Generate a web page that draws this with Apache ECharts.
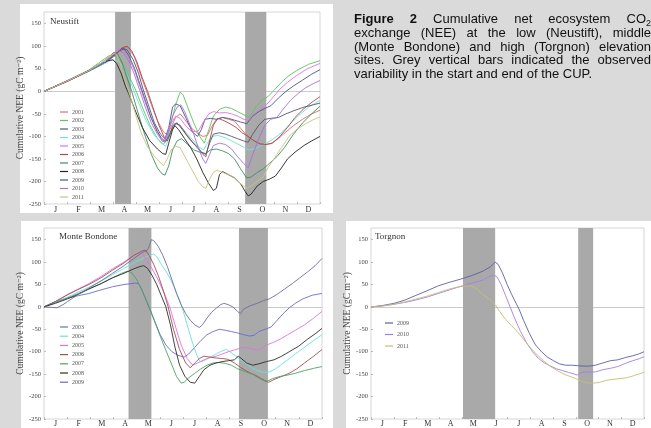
<!DOCTYPE html>
<html><head><meta charset="utf-8">
<script src="https://cdn.jsdelivr.net/npm/echarts@6/dist/echarts.min.js"></script>
<style>html,body{margin:0;padding:0;background:#dadada}#c{width:651px;height:428px}</style>
</head><body><div id="c"></div>
<script>
// ---------- data ----------
const months = ['J','F','M','A','M','J','J','A','S','O','N','D'];
const yTicks = {min:-250, max:176, step:50};

// Neustift (day of year, cumulative NEE)
const neu2001 = [[0,0],[31,22],[59,44],[80,62],[95,80],[106,99],[112,96],[120,75],[128,35],[135,3],[142,-30],[150,-65],[158,-90],[163,-97],[168,-80],[174,-58],[180,-50],[186,-62],[194,-80],[202,-92],[210,-100],[216,-98],[222,-78],[228,-62],[236,-58],[244,-62],[252,-66],[260,-82],[268,-98],[276,-108],[284,-115],[292,-118],[300,-116],[310,-105],[320,-90],[330,-76],[342,-62],[354,-50],[365,-42]];
const neu2002 = [[0,0],[31,24],[59,47],[75,66],[85,78],[92,80],[100,70],[108,48],[115,25],[122,0],[130,-35],[140,-75],[150,-105],[158,-118],[163,-105],[168,-70],[174,-30],[180,-2],[184,-8],[190,-35],[198,-70],[206,-100],[212,-115],[218,-85],[224,-55],[232,-40],[240,-35],[248,-38],[256,-45],[264,-52],[272,-58],[280,-35],[288,-20],[296,-12],[304,2],[314,20],[324,35],[336,48],[350,60],[365,68]];
const neu2003 = [[0,0],[31,23],[59,45],[80,63],[95,82],[103,96],[110,92],[118,70],[125,40],[131,5],[138,-30],[146,-70],[154,-95],[160,-105],[165,-80],[170,-35],[174,-28],[180,-32],[188,-60],[196,-90],[203,-100],[208,-85],[213,-62],[220,-60],[228,-62],[236,-58],[244,-60],[252,-64],[260,-68],[268,-72],[276,-55],[284,-45],[292,-38],[300,-32],[310,-15],[320,0],[330,12],[342,25],[354,38],[365,48]];
const neu2004 = [[0,0],[31,23],[59,44],[75,57],[85,66],[92,70],[98,68],[105,55],[112,30],[118,5],[125,-25],[135,-65],[145,-95],[155,-115],[161,-122],[166,-100],[171,-72],[176,-70],[182,-80],[190,-95],[198,-110],[206,-125],[211,-130],[216,-115],[222,-100],[230,-98],[238,-102],[246,-108],[254,-115],[262,-122],[270,-130],[278,-128],[286,-122],[294,-115],[304,-105],[314,-92],[324,-75],[336,-55],[350,-35],[365,-20]];
const neu2005 = [[0,0],[31,24],[59,46],[80,65],[92,85],[100,95],[106,90],[112,75],[120,45],[127,10],[134,-25],[142,-60],[150,-90],[157,-112],[162,-100],[168,-72],[174,-55],[180,-60],[188,-78],[196,-90],[204,-88],[212,-65],[218,-50],[224,-45],[232,-48],[240,-47],[248,-50],[256,-55],[264,-62],[270,-65],[278,-50],[286,-40],[294,-30],[302,-15],[312,5],[322,20],[334,35],[348,50],[365,62]];
const neu2006 = [[0,0],[31,22],[59,45],[80,64],[95,84],[104,97],[110,100],[116,90],[123,65],[130,30],[137,0],[144,-35],[152,-75],[159,-102],[163,-110],[168,-90],[174,-72],[180,-75],[188,-95],[196,-112],[204,-125],[210,-140],[214,-145],[219,-110],[224,-75],[230,-60],[238,-65],[246,-72],[254,-80],[262,-92],[270,-100],[278,-110],[286,-117],[294,-118],[302,-115],[312,-100],[322,-80],[332,-58],[344,-38],[356,-22],[365,-12]];
const neu2007 = [[0,0],[31,23],[59,46],[75,62],[85,75],[92,86],[97,84],[103,65],[110,30],[116,0],[123,-40],[132,-90],[142,-140],[150,-170],[156,-183],[160,-186],[165,-165],[170,-130],[176,-110],[182,-105],[190,-118],[198,-130],[206,-135],[214,-138],[220,-130],[228,-128],[236,-132],[244,-138],[252,-150],[260,-172],[268,-192],[274,-190],[282,-180],[290,-172],[298,-160],[308,-145],[318,-125],[330,-95],[342,-70],[354,-50],[365,-33]];
const neu2008 = [[0,0],[31,23],[59,46],[75,60],[85,68],[91,70],[96,62],[102,40],[108,10],[112,-5],[120,-40],[130,-80],[140,-110],[150,-128],[157,-138],[161,-140],[165,-115],[170,-85],[173,-76],[178,-85],[186,-105],[194,-125],[202,-150],[210,-180],[218,-205],[224,-220],[228,-215],[232,-185],[236,-178],[244,-185],[252,-192],[260,-205],[266,-222],[270,-232],[274,-228],[282,-210],[290,-200],[298,-195],[306,-188],[314,-170],[322,-150],[332,-135],[344,-120],[354,-110],[365,-100]];
const neu2009 = [[0,0],[31,23],[59,45],[80,64],[92,80],[100,90],[106,94],[112,80],[120,50],[127,15],[134,-20],[142,-60],[150,-90],[156,-105],[161,-112],[166,-95],[171,-75],[176,-70],[183,-85],[192,-105],[200,-120],[208,-135],[214,-140],[219,-115],[224,-95],[232,-92],[240,-95],[248,-100],[256,-105],[264,-110],[270,-113],[276,-95],[284,-75],[292,-62],[300,-60],[310,-58],[320,-50],[332,-42],[344,-35],[356,-30],[365,-26]];
const neu2010 = [[0,0],[31,23],[59,45],[80,64],[92,82],[99,90],[105,86],[112,68],[119,40],[126,5],[134,-35],[142,-70],[150,-95],[156,-110],[160,-112],[165,-85],[170,-55],[176,-35],[181,-30],[186,-45],[192,-70],[198,-95],[204,-125],[210,-150],[214,-160],[219,-140],[224,-120],[232,-115],[240,-118],[248,-128],[256,-145],[264,-160],[270,-170],[276,-140],[284,-105],[292,-75],[300,-62],[308,-58],[316,-40],[326,-20],[336,-5],[346,8],[356,17],[365,24]];
const neu2011 = [[0,0],[31,23],[59,46],[75,62],[85,75],[92,84],[96,82],[101,60],[106,30],[112,0],[120,-45],[128,-90],[136,-120],[144,-140],[152,-155],[158,-165],[163,-150],[168,-130],[174,-122],[180,-125],[188,-150],[196,-175],[204,-200],[210,-212],[214,-215],[219,-195],[224,-180],[229,-175],[236,-180],[244,-185],[252,-192],[260,-205],[268,-215],[274,-210],[282,-200],[290,-190],[296,-170],[304,-150],[314,-125],[324,-100],[334,-85],[346,-72],[356,-63],[365,-57]];

// Monte Bondone
const mb2003 = [[0,0],[15,12],[31,20],[45,25],[59,30],[75,38],[90,45],[105,50],[120,53],[124,52],[128,40],[133,20],[138,0],[145,-30],[152,-60],[160,-85],[168,-100],[176,-108],[184,-112],[190,-105],[198,-90],[206,-75],[214,-62],[222,-55],[230,-50],[238,-52],[246,-55],[254,-58],[262,-62],[270,-65],[276,-63],[282,-55],[290,-50],[298,-45],[306,-30],[314,-15],[322,-2],[330,8],[340,18],[352,26],[365,30]];
const mb2004 = [[0,0],[15,10],[31,22],[45,33],[59,44],[75,58],[90,72],[105,86],[120,100],[132,110],[140,116],[144,118],[148,112],[154,95],[160,80],[166,62],[172,40],[178,15],[182,-5],[188,-40],[194,-75],[200,-105],[205,-122],[210,-120],[218,-112],[226,-105],[234,-98],[240,-95],[248,-105],[256,-115],[264,-125],[272,-135],[280,-142],[288,-146],[296,-145],[304,-138],[312,-128],[320,-118],[330,-105],[342,-90],[354,-75],[365,-62]];
const mb2005 = [[0,0],[15,12],[31,28],[45,40],[59,52],[75,68],[90,85],[105,100],[118,115],[126,121],[130,118],[136,100],[142,85],[150,60],[158,30],[165,0],[172,-40],[180,-85],[188,-115],[195,-130],[202,-125],[210,-118],[218,-113],[226,-110],[234,-105],[242,-100],[250,-96],[258,-92],[264,-90],[272,-93],[280,-97],[286,-92],[292,-85],[300,-80],[310,-72],[320,-62],[330,-52],[342,-40],[354,-25],[365,-10]];
const mb2006 = [[0,0],[15,12],[31,27],[45,39],[59,50],[75,65],[90,82],[105,98],[118,115],[128,124],[133,127],[138,115],[144,95],[150,70],[156,40],[163,0],[170,-50],[178,-95],[186,-125],[192,-136],[198,-125],[204,-115],[210,-110],[218,-112],[226,-114],[234,-115],[242,-117],[250,-125],[258,-135],[266,-143],[274,-150],[282,-158],[290,-165],[295,-168],[302,-162],[312,-155],[322,-148],[332,-138],[342,-125],[354,-110],[365,-95]];
const mb2007 = [[0,0],[15,10],[31,20],[45,30],[59,40],[75,52],[90,65],[102,75],[110,80],[116,75],[122,60],[128,40],[134,15],[140,-10],[148,-45],[156,-80],[162,-105],[168,-130],[174,-155],[180,-170],[184,-168],[190,-158],[198,-148],[206,-138],[214,-130],[222,-125],[230,-124],[238,-126],[246,-130],[254,-138],[262,-143],[270,-148],[278,-152],[286,-160],[293,-166],[300,-160],[310,-155],[320,-152],[330,-148],[342,-142],[354,-137],[365,-133]];
const mb2008 = [[0,0],[15,8],[31,18],[45,28],[59,40],[75,52],[90,65],[105,75],[118,85],[126,90],[131,92],[136,86],[142,70],[148,50],[154,25],[160,0],[166,-40],[172,-90],[178,-130],[185,-155],[192,-168],[198,-170],[204,-155],[210,-140],[218,-130],[226,-125],[234,-122],[242,-120],[250,-118],[255,-110],[259,-115],[266,-125],[274,-130],[282,-127],[292,-122],[302,-118],[312,-110],[322,-100],[334,-88],[346,-72],[356,-60],[365,-48]];
const mb2009 = [[0,0],[10,-1],[17,-2],[25,5],[31,12],[45,28],[59,42],[75,58],[90,75],[105,92],[118,108],[128,120],[134,125],[137,130],[141,150],[144,148],[150,135],[156,115],[162,90],[168,60],[174,30],[180,5],[186,-15],[192,-30],[198,-40],[204,-46],[208,-40],[214,-25],[220,-12],[226,-3],[232,5],[236,8],[242,5],[248,0],[254,-10],[258,-15],[262,-5],[270,2],[280,8],[288,14],[296,18],[306,28],[316,40],[326,52],[336,65],[346,78],[356,92],[365,108]];

// Torgnon
const tor2009 = [[0,0],[15,3],[31,8],[45,15],[59,25],[75,36],[90,47],[105,55],[120,62],[135,70],[150,80],[160,90],[166,100],[170,95],[176,75],[182,50],[188,28],[194,8],[198,-5],[204,-30],[212,-60],[220,-85],[228,-100],[236,-112],[244,-120],[252,-127],[260,-130],[268,-130],[276,-131],[284,-132],[292,-132],[300,-130],[310,-125],[320,-120],[330,-118],[340,-113],[350,-109],[358,-105],[365,-100]];
const tor2010 = [[0,0],[15,2],[31,6],[45,10],[59,15],[75,22],[90,30],[105,38],[120,46],[135,53],[150,60],[158,68],[164,70],[168,68],[174,50],[180,25],[186,0],[192,-25],[200,-55],[208,-80],[216,-100],[224,-115],[232,-125],[240,-132],[248,-138],[256,-142],[264,-146],[272,-150],[276,-152],[282,-146],[290,-145],[300,-145],[310,-140],[320,-137],[330,-133],[340,-126],[350,-120],[358,-116],[365,-111]];
const tor2011 = [[0,0],[15,2],[31,6],[45,11],[59,17],[75,24],[90,32],[105,40],[118,45],[126,47],[135,46],[142,40],[148,30],[154,22],[160,15],[166,5],[172,-10],[180,-28],[188,-42],[194,-52],[202,-68],[210,-85],[218,-100],[226,-113],[234,-125],[242,-135],[250,-143],[258,-150],[266,-155],[274,-160],[282,-166],[290,-170],[298,-170],[306,-168],[314,-164],[322,-162],[332,-160],[342,-158],[352,-153],[365,-146]];

// CUP start / end variability (day of year)
const neuCupStart = [94,115], neuCupEnd = [266,294];
const mbCupStart  = [111,141], mbCupEnd  = [256,294];
const torCupStart = [123,166], torCupEnd = [277,297];

const neuYears = ['2001','2002','2003','2004','2005','2006','2007','2008','2009','2010','2011'];
const neuSeries = [neu2001,neu2002,neu2003,neu2004,neu2005,neu2006,neu2007,neu2008,neu2009,neu2010,neu2011];
const mbYears = ['2003','2004','2005','2006','2007','2008','2009'];
const mbSeries = [mb2003,mb2004,mb2005,mb2006,mb2007,mb2008,mb2009];
const torYears = ['2009','2010','2011'];
const torSeries = [tor2009,tor2010,tor2011];

const siteNames = ['Neustift','Monte Bondone','Torgnon'];
const caption = [
  'Figure 2 Cumulative net ecosystem CO2',
  'exchange (NEE) at the low (Neustift), middle',
  '(Monte Bondone) and high (Torgnon) elevation',
  'sites. Grey vertical bars indicated the observed',
  'variability in the start and end of the CUP.'
];

// ---------- styles ----------
const neuColors = ['#e06a6a','#5cc45c','#50508c','#72dede','#e072e0','#a44c4c','#3e8e60','#222222','#52566a','#a074e0','#c8c47e'];
const mbColors  = ['#6c6cd0','#6ae0e0','#e072e0','#a45050','#4fa262','#2e2e2e','#6e6e9c'];
const torColors = ['#5e5ea4','#a47ee6','#c4c072'];
const serif = '"Liberation Serif", "DejaVu Serif", serif';
const panels = [
  {rect:[20,4,313,209],  grid:{left:44,top:12,width:276,height:192}, title:[50,22],  legend:{left:55,top:104,gap:2.5}, nameGap:13},
  {rect:[21,221,312,207],grid:{left:44,top:228,width:278,height:191},title:[59,237], legend:{left:55,top:319,gap:3.2}, nameGap:13},
  {rect:[346,221,305,207],grid:{left:371,top:228,width:273,height:191},title:[375,237],legend:{left:380,top:315,gap:5.5}, nameGap:15}
];
const sets = [
  {years:neuYears, data:neuSeries, colors:neuColors, p:'n', cup:[neuCupStart,neuCupEnd]},
  {years:mbYears,  data:mbSeries,  colors:mbColors,  p:'m', cup:[mbCupStart,mbCupEnd]},
  {years:torYears, data:torSeries, colors:torColors, p:'t', cup:[torCupStart,torCupEnd]}
];

const grids=[], xAxes=[], yAxes=[], series=[], legends=[], graphics=[];
panels.forEach((pn,i)=>{
  graphics.push({type:'rect', z:-10, silent:true, shape:{x:pn.rect[0],y:pn.rect[1],width:pn.rect[2],height:pn.rect[3]}, style:{fill:'#ffffff'}});
  graphics.push({type:'text', x:pn.title[0], y:pn.title[1], silent:true, style:{text:siteNames[i], font:'9px '+serif, fill:'#333', textAlign:'left', textVerticalAlign:'middle'}});
  grids.push(Object.assign({show:true, borderColor:'#cccccc', borderWidth:0.8, backgroundColor:'transparent'}, pn.grid));
  xAxes.push({type:'value', gridIndex:i, min:0, max:365, axisLabel:{show:false}, axisTick:{show:false}, splitLine:{show:false},
    axisLine:{show:true, onZero:true, lineStyle:{color:'#bdbdbd', width:0.8}}});
  xAxes.push({type:'category', gridIndex:i, data:months, position:'bottom', boundaryGap:true,
    axisLine:{show:false, onZero:false}, axisTick:{show:true, inside:true, length:2, lineStyle:{color:'#bbb'}},
    axisLabel:{interval:0, fontSize:8, fontFamily:serif, color:'#333', margin:i===0?2:1}, splitLine:{show:false}});
  yAxes.push({type:'value', gridIndex:i, min:yTicks.min, max:yTicks.max, interval:yTicks.step,
    name:'Cumulative NEE (gC m\u207B\u00B2)', nameLocation:'middle', nameGap:pn.nameGap,
    nameTextStyle:{fontSize:9.5, fontFamily:serif, color:'#444'},
    axisLabel:{fontSize:6.5, fontFamily:serif, color:'#444', margin:3, showMaxLabel:false},
    axisLine:{show:false}, axisTick:{show:true, inside:true, length:2, lineStyle:{color:'#bbb'}}, splitLine:{show:false}});
  const s = sets[i];
  s.years.forEach((y,k)=>{
    const ser = {type:'line', name:s.p+y, xAxisIndex:i*2, yAxisIndex:i, data:s.data[k], showSymbol:false, symbol:'none',
      color:s.colors[k], lineStyle:{width:1, color:s.colors[k], opacity:0.9}, silent:true, animation:false, z:3};
    if(k===0){
      ser.markArea = {silent:true, itemStyle:{color:'#a9a9a9', opacity:1},
        data:s.cup.map(c=>[{xAxis:c[0]},{xAxis:c[1]}])};
    }
    series.push(ser);
  });
  legends.push({orient:'vertical', left:pn.legend.left, top:pn.legend.top, itemGap:pn.legend.gap, itemWidth:8, itemHeight:1.2,
    icon:'rect', selectedMode:false, data:s.years.map(y=>s.p+y), formatter:n=>n.slice(1),
    textStyle:{fontSize:6, lineHeight:6, fontFamily:serif, color:'#555', padding:[0,0,0,-1]}});
});

// caption, justified
const cv = document.createElement('canvas').getContext('2d');
const capFont = (b)=>(b?'bold ':'')+'13px "Liberation Sans", Arial, sans-serif';
const subFont = '9px "Liberation Sans", Arial, sans-serif';
function mw(t,f){cv.font=f; return cv.measureText(t).width;}
const capX = 354, capW = 297, capY0 = 19.5, capLH = 13.75;
caption.forEach((line,li)=>{
  const words = line.split(' ');
  const items = words.map((w,wi)=>{
    const bold = li===0 && wi<2;
    if(li===0 && w==='CO2'){ return {t:'CO', sub:'2', w:mw('CO',capFont(false))+mw('2',subFont), bold:false}; }
    return {t:w, w:mw(w,capFont(bold)), bold};
  });
  const total = items.reduce((a,b)=>a+b.w,0);
  const sp = (li<caption.length-1) ? (capW-total)/(items.length-1) : mw(' ',capFont(false));
  let x = capX; const y = capY0 + li*capLH;
  items.forEach(it=>{
    graphics.push({type:'text', x:x, y:y, silent:true, style:{text:it.t, font:capFont(it.bold), fill:'#111', textAlign:'left', textVerticalAlign:'middle'}});
    if(it.sub){
      const wx = x + mw(it.t,capFont(false));
      graphics.push({type:'text', x:wx, y:y+4, silent:true, style:{text:it.sub, font:subFont, fill:'#111', textAlign:'left', textVerticalAlign:'middle'}});
    }
    x += it.w + sp;
  });
});

const chart = echarts.init(document.getElementById('c'), null, {renderer:'canvas'});
chart.setOption({
  backgroundColor:'#dadada', animation:false,
  grid:grids, xAxis:xAxes, yAxis:yAxes, series:series, legend:legends,
  graphic:{elements:graphics}
});
</script></body></html>
